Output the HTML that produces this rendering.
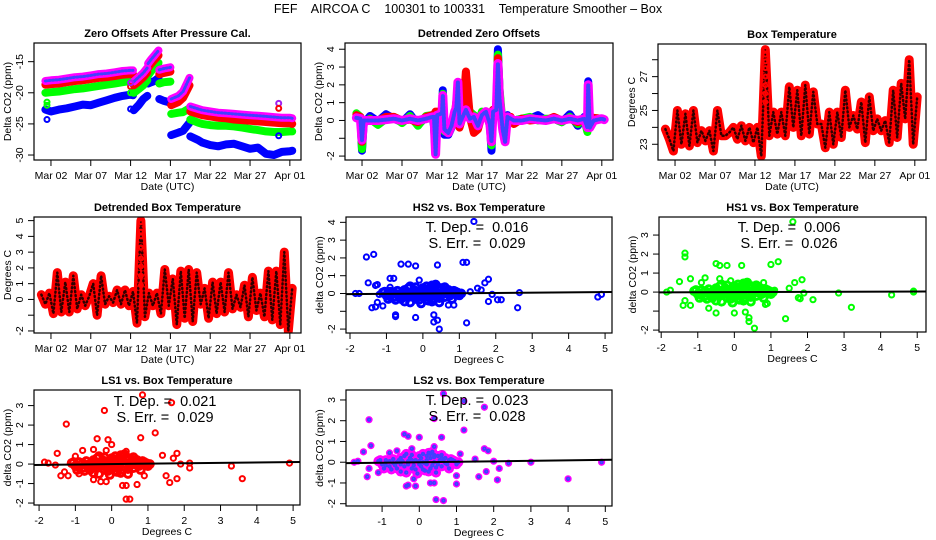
<!DOCTYPE html>
<html><head><meta charset="utf-8"><style>
html,body{margin:0;padding:0;background:#fff;}
svg{display:block;font-family:"Liberation Sans",sans-serif;}
</style></head><body>
<svg id="chart" width="936" height="540" viewBox="0 0 936 540" xmlns="http://www.w3.org/2000/svg">
<rect x="0" y="0" width="936" height="540" fill="#fff"/>
<text x="468" y="13" text-anchor="middle" font-size="12.5" style="white-space:pre">FEF    AIRCOA C    100301 to 100331    Temperature Smoother – Box</text>
</svg>
<script>
// ---------- data: panel 1 zero offsets ----------
const zoDays = [0.3,1,2,3,4,5,6,7,8,9,10,11,11.3,null,11.4,12,12.6,13.1,null,13.2,13.6,14,14.5,null,14.6,15.2,16,null,16.1,17,17.6,18.4,null,18.5,19.5,20,21,22,23,24,25,26,27,28,29,30,31,31.3];
const zoBlue = [-22.7,-23,-22.7,-22.5,-22.2,-21.9,-22,-21.6,-21.2,-20.8,-20.5,-20.3,-20.4,null,-22.8,-22,-21,-20.5,null,-18.5,-18.3,-18.1,-17.6,null,-21,-21.3,-21.6,null,-26.8,-26.4,-26.1,-24.8,null,-27,-27.6,-28,-28.4,-28.6,-28.3,-28.2,-28.6,-29,-28.8,-29.8,-30,-29.5,-29.4,-29.3];
const zoGreen = [-20,-19.9,-19.8,-19.6,-19.4,-19.3,-19.1,-18.9,-18.7,-18.5,-18.3,-18.1,-18,null,-20,-19.4,-18.8,-18,null,-17.2,-16.5,-15.8,-15.2,null,-18.5,-18.3,-18.2,null,-23.4,-23.2,-23.1,-22.5,null,-24.3,-24.8,-25,-25.2,-25.3,-25.3,-25.4,-25.6,-25.8,-26,-26.2,-26.3,-26.3,-26.2,-26.2];
const zoRed = [-18.7,-18.6,-18.5,-18.3,-18.1,-18,-17.8,-17.6,-17.5,-17.3,-17.1,-17,-17,null,-18.8,-18.2,-17.5,-16.7,null,-16,-15.3,-14.7,-14,null,-17,-16.8,-16.6,null,-22,-21.5,-20.8,-18.8,null,-23,-23.4,-23.6,-23.8,-24,-24.1,-24.3,-24.4,-24.5,-24.6,-24.7,-24.8,-24.9,-24.9,-25];
const zoPurple = [-18.1,-18,-17.9,-17.7,-17.5,-17.4,-17.2,-17,-16.9,-16.7,-16.5,-16.4,-16.4,null,-18.2,-17.5,-16.8,-16,null,-15.3,-14.6,-14,-13.2,null,-16.3,-16.1,-15.9,null,-21,-20.5,-19.8,-17.6,null,-22.2,-22.6,-22.8,-23,-23.2,-23.3,-23.4,-23.5,-23.6,-23.7,-23.8,-23.9,-24,-24,-24.1];
const zoOutDays = [0.5,0.5,0.5,11,11,11,11,29.6,29.6,29.6];
const zoOutVals = [-24.3,-21.5,-22,-22.6,-19,-20,-18.4,-21.7,-22.5,-26.9];
const zoOutColors = ["#0000ff","#00ff00","#00ff00","#0000ff","#ff0000","#00ff00","#a020f0","#a020f0","#ff0000","#0000ff"];
// ---------- data: panel 2 detrended zero offsets ----------
const dzDays = [0.3,0.8,1,1.2,2,3,4,5,6,7,8,9,9.8,10,10.2,10.4,11,11.1,11.3,11.8,12.2,12.6,12.8,13,13.2,13.6,14,14.5,15,15.5,16,16.5,17,17.2,17.4,17.8,18,18.2,18.6,18.9,19.2,19.6,20,21,22,23,24,25,26,27,28,28.8,29.2,29.3,29.5,30,31,31.3];
const dzBlue = [0.35,0.2,-1.7,-0.2,0.25,-0.05,0.35,0.1,-0.1,0.35,-0.25,0.2,0.25,-0.3,-1.9,0.3,0.4,1.7,-0.8,-0.8,-0.4,0.4,0.8,1.0,-0.3,0.2,0.7,0.1,0.3,-0.4,0.3,0.5,-0.3,-1.7,0.6,0.7,4.0,1.7,-0.6,-1.1,0.3,0.1,0,0.1,0.1,0.3,0,0.1,-0.1,0.35,-0.3,0.2,-0.5,2.2,-0.4,0.1,0.1,0.05];
const dzGreen = [0.4,0.2,-1.6,-0.1,0.1,-0.25,0.1,0.2,-0.15,0.25,-0.3,0.25,0.3,-0.2,-1.9,0.3,0.2,1.5,-0.6,-0.7,-0.3,0.5,0.6,0.9,-0.2,0.3,0.5,0.5,0.3,-0.3,0.5,0.4,-0.2,-1.4,0.5,0.6,3.7,1.8,-0.3,-0.5,0.2,0.1,0,0.1,0.2,0,0.1,0.1,-0.1,0.2,-0.2,0.1,-0.65,1.8,-0.4,0.1,0.1,0.05];
const dzRed = [0.3,0.2,-1.2,0,0.05,0,0.2,0.2,0,0.05,-0.1,0.2,0.3,0.3,0.5,0.5,0.45,0.5,-0.5,-0.6,-0.3,0.3,1.05,0.6,-0.4,0.2,2.75,0.2,-0.7,-0.5,0.3,0.3,0.4,-0.8,0.6,0.3,3.5,1.3,-0.4,-0.9,0.2,0.2,-0.2,0.1,0,0.05,0,0.2,0,0.1,-0.1,0.1,-0.3,0.2,-0.4,0.15,0.1,0.05];
const dzPurple = [0.15,0.1,-1.1,0,0,0,0.05,0.1,0,0.1,0,0.1,0.2,0.2,-1.9,0.3,0.4,1.4,-0.5,-0.7,-0.3,0.5,0.7,2.15,-0.2,0.2,0.6,0.1,0.2,-0.3,0.3,0.5,-0.2,-1.2,0.5,0.6,3.2,1.2,-0.5,-1.2,0.2,0.1,0,0,0.1,0.05,0,0.1,0,0.1,0,0.1,-0.4,2.0,-0.4,0,0.1,0.05];
// ---------- data: panel 3 box temperature (half-day samples from day -0.2) ----------
const btStart = -0.2;
const btStep = 0.5;
const boxTemp = [23.9,23.3,22.6,25,23,24.8,22.9,25,23.1,23.8,23.2,23.8,22.6,25,23.5,23.5,23.7,24,23.3,24.1,23.2,24,23.1,24,22.3,28.6,23.5,24.9,23.6,24.9,23.5,26.4,24,26.2,23.5,26.5,23.6,26.1,24.2,24.2,22.8,24.9,23,24.9,23.4,26.2,24,24.7,23.9,25.5,23.1,25.8,23.8,24.5,23.8,24.4,23.1,26.2,23.4,26.6,24.5,28,23,25.8];
const boxTempSpike = [27.5,27.9,28.3,28.6,27,26.5,26,25.5];
// ---------- data: panel 4 detrended box temperature ----------
const detBoxTemp = [0.3,-0.3,0.4,-0.9,1.7,-0.8,1.1,-0.8,1.5,-0.6,0.3,-0.4,0.2,1.0,-1.0,1.5,-0.3,0.2,-0.2,0.6,-0.3,0.6,-0.4,0.5,-1.5,5.0,-1.1,0.4,-0.4,0.4,-0.9,1.9,-0.4,1.3,-1.6,1.8,-1.2,1.9,-1.4,1.7,-0.3,0.7,-1.2,1.1,-0.9,1.1,-0.8,1.7,-0.6,0.3,-0.5,0.9,-1.1,1.4,-0.7,0.4,-1.1,1.8,-1.3,1.8,-1.6,3.0,-2.0,0.7];
const detSpike = [4.9,4.3,4.0,3.3,2.6,2.1,1.5,0.9];
// ---------- data: scatter panels ----------
const blobX = [-1,-0.9,-0.8,-0.7,-0.6,-0.5,-0.5,-0.4,-0.35,-0.3,-0.2,-0.2,-0.1,-0.05,0,0.05,0.1,0.15,0.2,0.25,0.3,0.35,0.4,0.45,0.5,0.6,0.7,0.8,0.9,1,-0.6,0.1,0.3,-0.3,0.6,-0.8,0,0.5,-1.1,-0.95,-0.65,-0.15,0.2,0.75,0.85,-0.45,0.05,0.4,-0.75,-0.55,-0.25,-0.1,0.15,0.35,0.55,0.65,0.95,-0.9,-0.4,0.25,0.45,0.7,-0.2,0,0.3,-0.7,1.05,-1.05,0.1,-0.35,0.6,0.2,-0.5,0.4,0.8];
const blobY = [-0.1,0.1,-0.2,0.15,-0.3,0.2,-0.45,0.3,-0.5,0.05,-0.3,0.35,0.1,-0.55,0.3,-0.2,0.4,-0.4,0.1,0.45,-0.3,0.5,0,-0.5,0.3,-0.2,0.2,-0.3,0.1,-0.1,0,0,0.2,-0.1,0.35,0.05,-0.1,-0.1,0.05,-0.3,-0.15,-0.15,-0.1,-0.1,0.15,0.05,0.2,0.25,-0.35,0.1,0.2,-0.35,-0.05,-0.15,0.1,0.05,0.05,-0.15,-0.2,-0.45,-0.25,-0.05,0.1,0.05,0.4,-0.05,0,0.1,-0.35,0.4,0.2,0.3,-0.1,0.35,0.1];
const hs2X = [-1.55,-1.35,-1.5,-1.3,-1.25,-0.9,-0.8,-0.6,-0.4,-0.2,-0.1,0.4,1.1,1.2,1.4,1.7,1.8,-1.85,-1.75,-1.4,-1.3,-1.1,-0.75,-0.75,-0.2,0.3,0.3,0.4,0.45,1.2,0.7,0.85,1.8,2.05,2.15,2.6,2.65,4.8,4.9,1.5,1.3,1.6,1.9,-1.25,-0.9,-1.2];
const hs2Y = [2.05,2.2,0.6,0.45,0.5,0.85,0.85,1.65,1.65,1.55,0.75,1.6,1.75,1.75,4.05,0.6,0.8,0,0,-0.8,-0.75,-0.7,-1.2,-1.3,-1.35,-1.2,-1.6,-1.5,-2,-1.65,-0.65,-0.65,-0.45,-0.35,-0.35,-0.8,0.05,-0.2,-0.05,0.3,0.1,0.2,-0.05,-0.5,0.35,-0.05];
const hs1X = [1.6,-1.35,-1.35,-0.5,-0.4,-0.2,0.2,1.0,1.2,-1.5,-1.2,-0.8,-0.9,-0.4,-0.1,0.8,1.65,1.85,-1.85,-1.75,-1.4,-1.2,-1.35,-0.7,-0.5,0,0.3,0.4,0.4,0.55,0.85,0.9,1.4,1.75,1.8,2.15,2.85,3.2,4.3,4.9,4.9,1.5,1.9,1.1];
const hs1Y = [3.7,2.05,1.85,1.5,1.4,1.4,1.4,1.45,1.6,0.55,0.7,0.75,0.5,0.7,0.6,0.5,0.5,0.65,0,0.1,-0.7,-0.7,-0.45,-0.85,-1.1,-1.1,-1.05,-1.35,-1.55,-1.9,-0.65,-0.6,-1.4,-0.3,-0.35,-0.4,-0.05,-0.8,-0.15,0.05,0,0.2,-0.05,0.1];
const ls1X = [0.85,1.65,-0.2,-1.25,1.2,0.8,-0.4,-0.1,0,-0.8,-0.5,-0.15,0.4,-1.5,-1,1.8,-1.85,-1.75,-1.55,-1.4,-1.3,-1.2,-0.9,-0.5,-0.3,-0.15,0.3,0.4,0.4,0.5,0.7,0.9,1.5,1.6,1.8,2.15,2.15,3.3,3.6,4.9,1.4,1.7,1.9];
const ls1Y = [3.55,3.15,2.75,2.05,1.6,1.35,1.3,1.25,1.0,0.7,0.75,0.7,0.65,0.55,0.4,0.55,0.1,0.05,-0.05,-0.6,-0.4,-0.6,-0.5,-0.8,-0.9,-0.9,-1.1,-1.1,-1.8,-1.8,-1.05,-0.6,-0.6,-0.95,-0.75,-0.2,0.05,-0.1,-0.75,0.05,0.45,0.3,0];
const ls2X = [0.65,1.2,1.75,-1.35,0.4,1.2,-0.4,-0.3,0,0.6,-1.3,-1.5,-0.8,-0.6,-0.2,0.4,1.1,1.75,1.85,-1.75,-1.65,-1.4,-1.35,-1.1,-0.35,-0.3,-0.1,-0.15,0.3,0.4,0.45,0.65,1,1,1.6,1.8,2.1,2.15,2.4,3,4,4.9,2,1.5];
const ls2Y = [3.3,2.95,2.65,2.05,2.1,1.55,1.35,1.25,1.2,1.2,0.8,0.5,0.45,0.55,0.65,0.75,0.4,0.65,0.55,0,0.05,-0.7,-0.3,-0.5,-1.15,-1.1,-1.15,-0.8,-1,-1,-1.8,-1.85,-1.05,-0.65,-0.7,-0.45,-0.85,-0.3,-0.05,0,-0.8,0,0.05,0.15];
const slopes = [0.016,0.006,0.021,0.023];
const intercepts = [0,0,0,0];
const tDepLabels = ["0.016","0.006","0.021","0.023"];
const sErrLabels = ["0.029","0.026","0.029","0.028"];
const dateTickDays = [1,6,11,16,21,26,31];
const dateTickLabels = ["Mar 02","Mar 07","Mar 12","Mar 17","Mar 22","Mar 27","Apr 01"];

// ---------- rendering ----------
const svg = document.getElementById('chart');
const NS = 'http://www.w3.org/2000/svg';
function mk(tag, attrs, parent){
  const e = document.createElementNS(NS, tag);
  for (const k in attrs) e.setAttribute(k, attrs[k]);
  (parent||svg).appendChild(e);
  return e;
}
function makePanel(cfg){
  const g = mk('g', {});
  
  
  const b = cfg.box;
  const sx = v => b.l + (v - cfg.xd[0]) / (cfg.xd[1] - cfg.xd[0]) * (b.r - b.l);
  const sy = v => b.b - (v - cfg.yd[0]) / (cfg.yd[1] - cfg.yd[0]) * (b.b - b.t);
  const t = mk('text', {x:(b.l+b.r)/2, y:b.t-6, 'text-anchor':'middle', 'font-size':'11', 'font-weight':'bold'}, g);
  t.textContent = cfg.title;
  
  
  const xa = mk('g', {}, g);
  
  
  const xt0 = sx(cfg.xticks[0]), xt1 = sx(cfg.xticks[cfg.xticks.length-1]);
  mk('line', {x1:xt0, x2:xt1, y1:b.b, y2:b.b, stroke:'#000', 'stroke-width':1}, xa);
  cfg.xticks.forEach((v,i) => {
    const x = sx(v);
    mk('line', {x1:x, x2:x, y1:b.b, y2:b.b+6, stroke:'#000', 'stroke-width':1}, xa);
    const lb = mk('text', {x:x, y:b.b+19, 'text-anchor':'middle', 'font-size':'10.5'}, xa);
    lb.textContent = cfg.xlabels[i];
    
    
  });
  const xl = mk('text', {x:(b.l+b.r)/2, y:b.b+30, 'text-anchor':'middle', 'font-size':'10.5'}, g);
  xl.textContent = cfg.xtitle;
  
  
  const ya = mk('g', {}, g);
  
  
  const yt0 = sy(cfg.yticks[0]), yt1 = sy(cfg.yticks[cfg.yticks.length-1]);
  mk('line', {x1:b.l, x2:b.l, y1:yt0, y2:yt1, stroke:'#000', 'stroke-width':1}, ya);
  cfg.yticks.forEach((v,i) => {
    const y = sy(v);
    mk('line', {x1:b.l-6, x2:b.l, y1:y, y2:y, stroke:'#000', 'stroke-width':1}, ya);
    if (cfg.ylabels[i] !== '') {
      const lb = mk('text', {x:0, y:0, 'text-anchor':'middle', 'font-size':'10.5', transform:`translate(${b.l-11},${y}) rotate(-90)`}, ya);
      lb.textContent = cfg.ylabels[i];
      
      
    }
  });
  const yl = mk('text', {x:0, y:0, 'text-anchor':'middle', 'font-size':'10.5', transform:`translate(${b.l-23},${(b.t+b.b)/2}) rotate(-90)`}, g);
  yl.textContent = cfg.ytitle;
  
  
  const cid = 'clip-' + cfg.name;
  const cp = mk('clipPath', {id:cid}, g);
  mk('rect', {x:b.l, y:b.t, width:b.r-b.l, height:b.b-b.t}, cp);
  const plot = mk('g', {'clip-path':`url(#${cid})`}, g);
  
  
  const frame = mk('rect', {x:b.l, y:b.t, width:b.r-b.l, height:b.b-b.t, fill:'none', stroke:'#000', 'stroke-width':1.2}, g);
  
  
  return {g, plot, sx, sy, box:b};
}
function bandLine(P, xs, ys, color, w, name){
  let d = '', pen = false;
  for (let i = 0; i < xs.length; i++) {
    if (xs[i] === null || ys[i] === null) { pen = false; continue; }
    d += (pen ? 'L' : 'M') + P.sx(xs[i]).toFixed(1) + ',' + P.sy(ys[i]).toFixed(1);
    pen = true;
  }
  const p = mk('path', {d:d, fill:'none', stroke:color, 'stroke-width':w, 'stroke-linejoin':'round', 'stroke-linecap':'round'}, P.plot);
  
  
  return p;
}
function pts(P, xs, ys, color, r, name, sw){
  for (let i = 0; i < xs.length; i++) {
    const c = mk('circle', {cx:P.sx(xs[i]), cy:P.sy(ys[i]), r:r, fill:'none', stroke:color, 'stroke-width':sw||2}, P.plot);
    
    
  }
}
const dateCfg = {xd:[-1.13,32.4], xticks:dateTickDays, xlabels:dateTickLabels, xtitle:'Date (UTC)'};

// Panel 1
{
  const P = makePanel(Object.assign({name:'zero-offsets-panel', title:'Zero Offsets After Pressure Cal.', box:{l:34,r:301,t:43,b:160}, yd:[-30.8,-12], yticks:[-30,-25,-20,-15], ylabels:['-30','-25','-20','-15'], ytitle:'Delta CO2 (ppm)'}, dateCfg));
  bandLine(P, zoDays, zoBlue, '#0000ff', 8, 'series-blue');
  bandLine(P, zoDays, zoGreen, '#00ff00', 8, 'series-green');
  bandLine(P, zoDays, zoRed, '#ff0000', 8, 'series-red');
  bandLine(P, zoDays, zoPurple, '#ff00ff', 8, 'series-purple');
  const o = bandLine(P, zoDays, zoPurple, '#4040ff', 3, 'series-purple-texture');
  o.setAttribute('stroke-dasharray', '1.5 2');
  for (let i = 0; i < zoOutDays.length; i++) pts(P, [zoOutDays[i]], [zoOutVals[i]], zoOutColors[i], 2.5, 'outlier-point');
}
// Panel 2
{
  const P = makePanel(Object.assign({name:'detrended-zero-offsets-panel', title:'Detrended Zero Offsets', box:{l:345,r:613,t:43,b:160}, yd:[-2.22,4.35], yticks:[-2,-1,0,1,2,3,4], ylabels:['-2','','0','1','2','3','4'], ytitle:'Delta CO2 (ppm)'}, dateCfg));
  bandLine(P, dzDays, dzBlue, '#0000ff', 8, 'series-blue');
  bandLine(P, dzDays, dzGreen, '#00ff00', 8, 'series-green');
  bandLine(P, dzDays, dzRed, '#ff0000', 8, 'series-red');
  bandLine(P, dzDays, dzPurple, '#ff00ff', 9, 'series-purple');
  const o = bandLine(P, dzDays, dzPurple, '#4040ff', 4, 'series-purple-texture');
  o.setAttribute('stroke-dasharray', '1.5 2');
}
// Panel 3
{
  const P = makePanel(Object.assign({name:'box-temperature-panel', title:'Box Temperature', box:{l:658,r:926,t:44,b:160}, yd:[22.07,28.93], yticks:[23,24,25,26,27,28], ylabels:['23','','25','','27',''], ytitle:'Degrees C'}, dateCfg));
  const xs = boxTemp.map((v,i) => btStart + i*btStep);
  bandLine(P, xs, boxTemp, '#ff0000', 9, 'box-temp-line');
  const o = bandLine(P, xs, boxTemp, '#300000', 2.5, 'box-temp-texture');
  o.setAttribute('stroke-dasharray', '1 3');
  const spikeX = boxTempSpike.map(() => btStart + 25*btStep);
  pts(P, spikeX, boxTempSpike, '#ff0000', 2, 'spike-point');
}
// Panel 4
{
  const P = makePanel(Object.assign({name:'detrended-box-temperature-panel', title:'Detrended Box Temperature', box:{l:34,r:301,t:217,b:333}, yd:[-2.13,5.23], yticks:[-2,-1,0,1,2,3,4,5], ylabels:['-2','','0','1','2','3','4','5'], ytitle:'Degrees C'}, dateCfg));
  const xs = detBoxTemp.map((v,i) => btStart + i*btStep);
  bandLine(P, xs, detBoxTemp, '#ff0000', 9, 'detrended-temp-line');
  const o = bandLine(P, xs, detBoxTemp, '#300000', 2.5, 'detrended-temp-texture');
  o.setAttribute('stroke-dasharray', '1 3');
  const spikeX = detSpike.map(() => btStart + 25*btStep);
  pts(P, spikeX, detSpike, '#ff0000', 2, 'spike-point');
}
// Scatter panels
const scatterCfgs = [
  {name:'hs2-scatter-panel', title:'HS2 vs. Box Temperature', box:{l:346,r:612,t:217,b:333}, xd:[-2.11,5.19], yd:[-2.22,4.3], xticks:[-2,-1,0,1,2,3,4,5], yticks:[-2,-1,0,1,2,3,4], ylabels:['-2','','0','1','2','3','4'], xs:hs2X, ys:hs2Y, color:'#0000ff', tx:477, ty:232},
  {name:'hs1-scatter-panel', title:'HS1 vs. Box Temperature', box:{l:659,r:926,t:217,b:332}, xd:[-2.06,5.24], yd:[-2.1,3.95], xticks:[-2,-1,0,1,2,3,4,5], yticks:[-2,-1,0,1,2,3], ylabels:['-2','','0','1','2','3'], xs:hs1X, ys:hs1Y, color:'#00ff00', tx:789, ty:232},
  {name:'ls1-scatter-panel', title:'LS1 vs. Box Temperature', box:{l:34,r:300,t:390,b:505}, xd:[-2.14,5.19], yd:[-2.1,3.8], xticks:[-2,-1,0,1,2,3,4,5], yticks:[-2,-1,0,1,2,3], ylabels:['-2','-1','0','1','2','3'], xs:ls1X, ys:ls1Y, color:'#ff0000', tx:165, ty:406},
  {name:'ls2-scatter-panel', title:'LS2 vs. Box Temperature', box:{l:346,r:612,t:390,b:506}, xd:[-1.97,5.18], yd:[-2.11,3.48], xticks:[-1,0,1,2,3,4,5], yticks:[-2,-1,0,1,2,3], ylabels:['-2','-1','0','1','2','3'], xs:ls2X, ys:ls2Y, color:'#ff00ff', tx:477, ty:405}
];
scatterCfgs.forEach((c, k) => {
  const P = makePanel({name:c.name, title:c.title, box:c.box, xd:c.xd, yd:c.yd, xticks:c.xticks, xlabels:c.xticks.map(String), xtitle:'Degrees C', yticks:c.yticks, ylabels:c.ylabels, ytitle:'delta CO2 (ppm)'});
  pts(P, blobX, blobY, c.color, 3.5, 'cluster-point', 3);
  pts(P, c.xs, c.ys, c.color, 2.6, 'scatter-point', 2);
  if (k === 3) pts(P, c.xs.concat(blobX), c.ys.concat(blobY), '#4040ff', 1.2, 'scatter-point-texture');
  const x0 = c.xd[0], x1 = c.xd[1];
  const ln = mk('line', {x1:P.sx(x0), y1:P.sy(intercepts[k]+slopes[k]*x0), x2:P.sx(x1), y2:P.sy(intercepts[k]+slopes[k]*x1), stroke:'#000', 'stroke-width':2}, P.plot);
  
  
  const t1 = mk('text', {x:c.tx, y:c.ty, 'text-anchor':'middle', 'font-size':'14.5', style:'white-space:pre'}, P.g);
  t1.textContent = 'T. Dep. =  ' + tDepLabels[k];
  
  
  const t2 = mk('text', {x:c.tx, y:c.ty+16, 'text-anchor':'middle', 'font-size':'14.5', style:'white-space:pre'}, P.g);
  t2.textContent = 'S. Err. =  ' + sErrLabels[k];
  
  
});
</script>
</body></html>
